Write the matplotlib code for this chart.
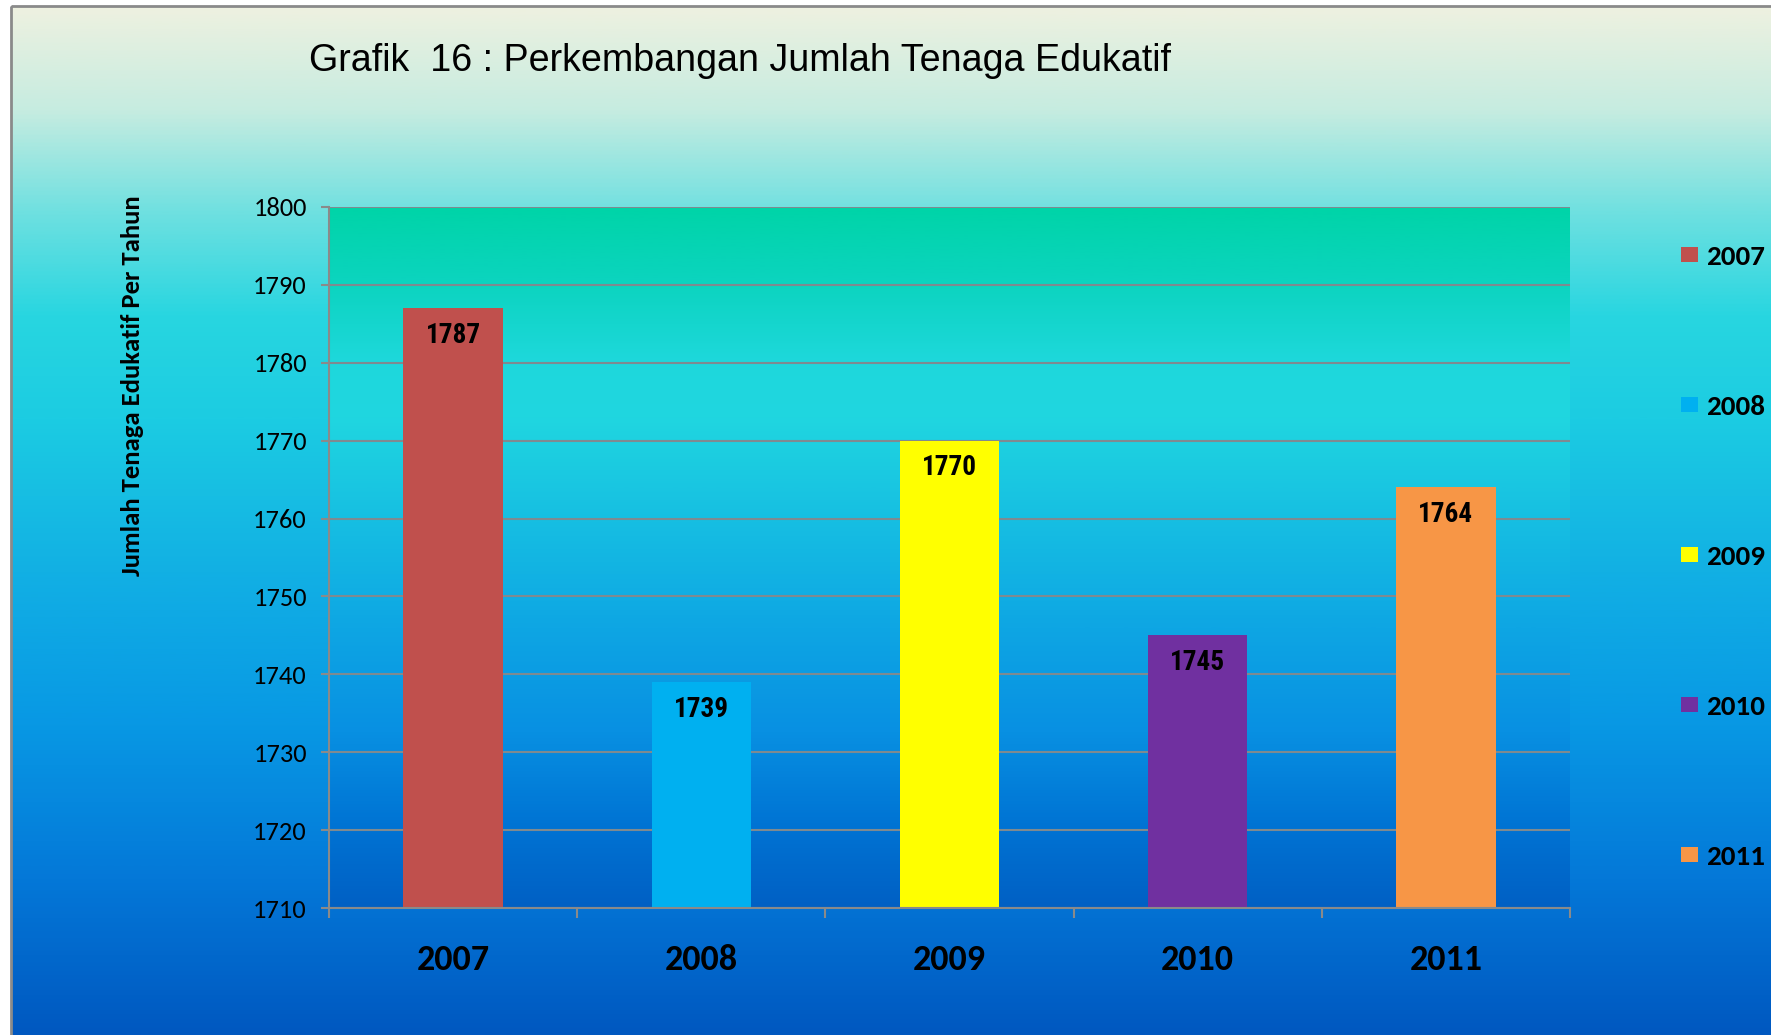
import numpy as np
import matplotlib
matplotlib.use("Agg")
import matplotlib.pyplot as plt
import matplotlib.font_manager as fm
from matplotlib.colors import LinearSegmentedColormap
from matplotlib.patches import Rectangle

# ---- data ----
years = ["2007", "2008", "2009", "2010", "2011"]
values = [1787, 1739, 1770, 1745, 1764]
bar_colors = ["#C0504D", "#00B0F0", "#FFFF00", "#7030A0", "#F79646"]
yticks = [1710, 1720, 1730, 1740, 1750, 1760, 1770, 1780, 1790, 1800]
title = "Grafik  16 : Perkembangan Jumlah Tenaga Edukatif"
ylabel = "Jumlah Tenaga Edukatif Per Tahun"

# ---- font selection ----
available = {}
for f in fm.fontManager.ttflist:
    try:
        w = int(f.weight)
    except (TypeError, ValueError):
        w = 700 if "bold" in str(f.weight).lower() else 400
    available.setdefault(f.name, set()).add(w)


def pick(cands, bold=False):
    for c in cands:
        if c in available and (not bold or max(available[c]) >= 600):
            return c
    return "DejaVu Sans"


CAL = pick(["Carlito", "Calibri", "Lato"])
CALB = pick(["Carlito", "Calibri", "Lato"], bold=True)
NARB = pick(["Liberation Sans Narrow", "Arial Narrow", "Roboto Condensed",
             "Archivo Narrow", "PT Sans Narrow", "Liberation Sans"], bold=True)
ARIAL = pick(["Liberation Sans", "Arimo", "Arial"])

W, H = 1771, 1035
fig = plt.figure(figsize=(W / 100, H / 100), dpi=100)
fig.patch.set_facecolor("white")
renderer = fig.canvas.get_renderer()


def fit_size(s, family, weight, target, size0=20.0):
    t = fig.text(0, 0, s, family=family, fontweight=weight, fontsize=size0)
    wpx = t.get_window_extent(renderer).width
    t.remove()
    return size0 * target / wpx


title_fs = fit_size(title, ARIAL, "normal", 861)
ylab_fs = fit_size(ylabel, CALB, "bold", 381)
ytick_fs = fit_size("1800", CAL, "normal", 54)
xtick_fs = fit_size("2007", CALB, "bold", 73)
leg_fs = fit_size("2007", CALB, "bold", 59)
val_fs = fit_size("1787", NARB, "bold", 55)

# ---- figure background gradient ----
fig_stops = [(0.0, "#eef1e0"), (0.1, "#c6ece0"), (0.2, "#6ee0e0"),
             (0.3, "#28d6e0"), (0.4, "#1ccce2"), (0.55, "#12b0e4"),
             (0.7, "#0898e4"), (0.85, "#0478d8"), (1.0, "#0058c0")]
fig_cmap = LinearSegmentedColormap.from_list("figbg", fig_stops)
bg = fig.add_axes([0, 0, 1, 1], zorder=-10)
grad = np.linspace(0, 1, 512).reshape(-1, 1)
bg.imshow(grad, cmap=fig_cmap, extent=[11, W, H, 6], aspect="auto",
          interpolation="bilinear")
bg.add_patch(Rectangle((11, 6), W + 10, H + 10, fill=False,
                       edgecolor="#8a8a8a", lw=2))
bg.set_xlim(0, W)
bg.set_ylim(H, 0)
bg.axis("off")

# ---- main axes ----
left, right, top, bottom = 329, 1570, 207, 908
ax = fig.add_axes([left / W, 1 - bottom / H, (right - left) / W, (bottom - top) / H])
ax.patch.set_visible(False)

plot_stops = [(0.0, "#00d4a8"), (0.11, "#0cd4c0"), (0.22, "#1ed8dc"),
              (0.3, "#20d6e0"), (0.45, "#16bee2"), (0.6, "#0ea6e4"),
              (0.75, "#0890e2"), (0.88, "#0074d4"), (1.0, "#0060c4")]
plot_cmap = LinearSegmentedColormap.from_list("plotbg", plot_stops)
ax.imshow(grad, cmap=plot_cmap, extent=[-0.5, 4.5, 1710, 1800],
          aspect="auto", interpolation="bilinear", zorder=0, origin="upper")

x = np.arange(len(years))
handles = []
for i, (yr, v, c) in enumerate(zip(years, values, bar_colors)):
    b = ax.bar(x[i], v - 1710, bottom=1710, width=0.4, color=c, zorder=3, label=yr)
    handles.append(b[0])
    ax.annotate(str(v), (x[i], v), xytext=(0, -27), textcoords="offset pixels",
                ha="center", va="center", fontsize=val_fs, fontweight="bold",
                family=NARB, color="black", zorder=4)

ax.set_xlim(-0.5, 4.5)
ax.set_ylim(1710, 1800)
ax.set_yticks(yticks)
ax.set_yticklabels([str(t) for t in yticks], fontsize=ytick_fs, family=CAL)
ax.yaxis.grid(True, color="#7f8a90", lw=1.5, zorder=1)
ax.set_axisbelow(False)

ax.set_xticks(x)
ax.set_xticklabels(years, fontsize=xtick_fs, fontweight="bold", family=CALB)
ax.set_xticks(np.arange(-0.5, 5, 1), minor=True)
xpad = 24.0
ax.tick_params(axis="x", which="major", length=0, pad=xpad)
ax.tick_params(axis="x", which="minor", length=7.5, width=1.5, color="#8a8a8a")
ax.tick_params(axis="y", length=6, width=1.5, color="#8a8a8a", pad=10)

for s in ["top", "right"]:
    ax.spines[s].set_visible(False)
for s in ["left", "bottom"]:
    ax.spines[s].set_color("#8a8a8a")
    ax.spines[s].set_linewidth(1.5)
    ax.spines[s].set_zorder(5)

# adjust x tick label vertical position to target centre
fig.canvas.draw()
bb = ax.get_xticklabels()[0].get_window_extent(renderer)
cy = (bb.y0 + bb.y1) / 2
target_cy = H - 960
xpad += (cy - target_cy) * 72 / 100
ax.tick_params(axis="x", which="major", pad=xpad)

# ---- texts ----
fig.text(309 / W, 1 - 61 / H, title, ha="left", va="center", fontsize=title_fs,
         family=ARIAL, color="black")
fig.text(132 / W, 1 - 386 / H, ylabel, ha="center", va="center", rotation=90,
         fontsize=ylab_fs, fontweight="bold", family=CALB, color="black")

leg_px = leg_fs * 100 / 72


def make_legend(ls):
    return fig.legend(handles, years, loc="center left",
                      bbox_to_anchor=(1681 / W, 1 - 557 / H), frameon=False,
                      prop={"family": CALB, "weight": "bold", "size": leg_fs},
                      labelspacing=ls, handlelength=17 / leg_px,
                      handleheight=13 / leg_px, handletextpad=8 / leg_px,
                      borderpad=0, borderaxespad=0)


ls = 4.5
leg = make_legend(ls)
fig.canvas.draw()
ys = [t.get_window_extent(renderer).y0 for t in leg.get_texts()]
spacing = (ys[0] - ys[-1]) / 4
ls += (150 - spacing) / leg_px
leg.remove()
leg = make_legend(ls)

fig.savefig("out.png", dpi=100, facecolor=fig.get_facecolor())
